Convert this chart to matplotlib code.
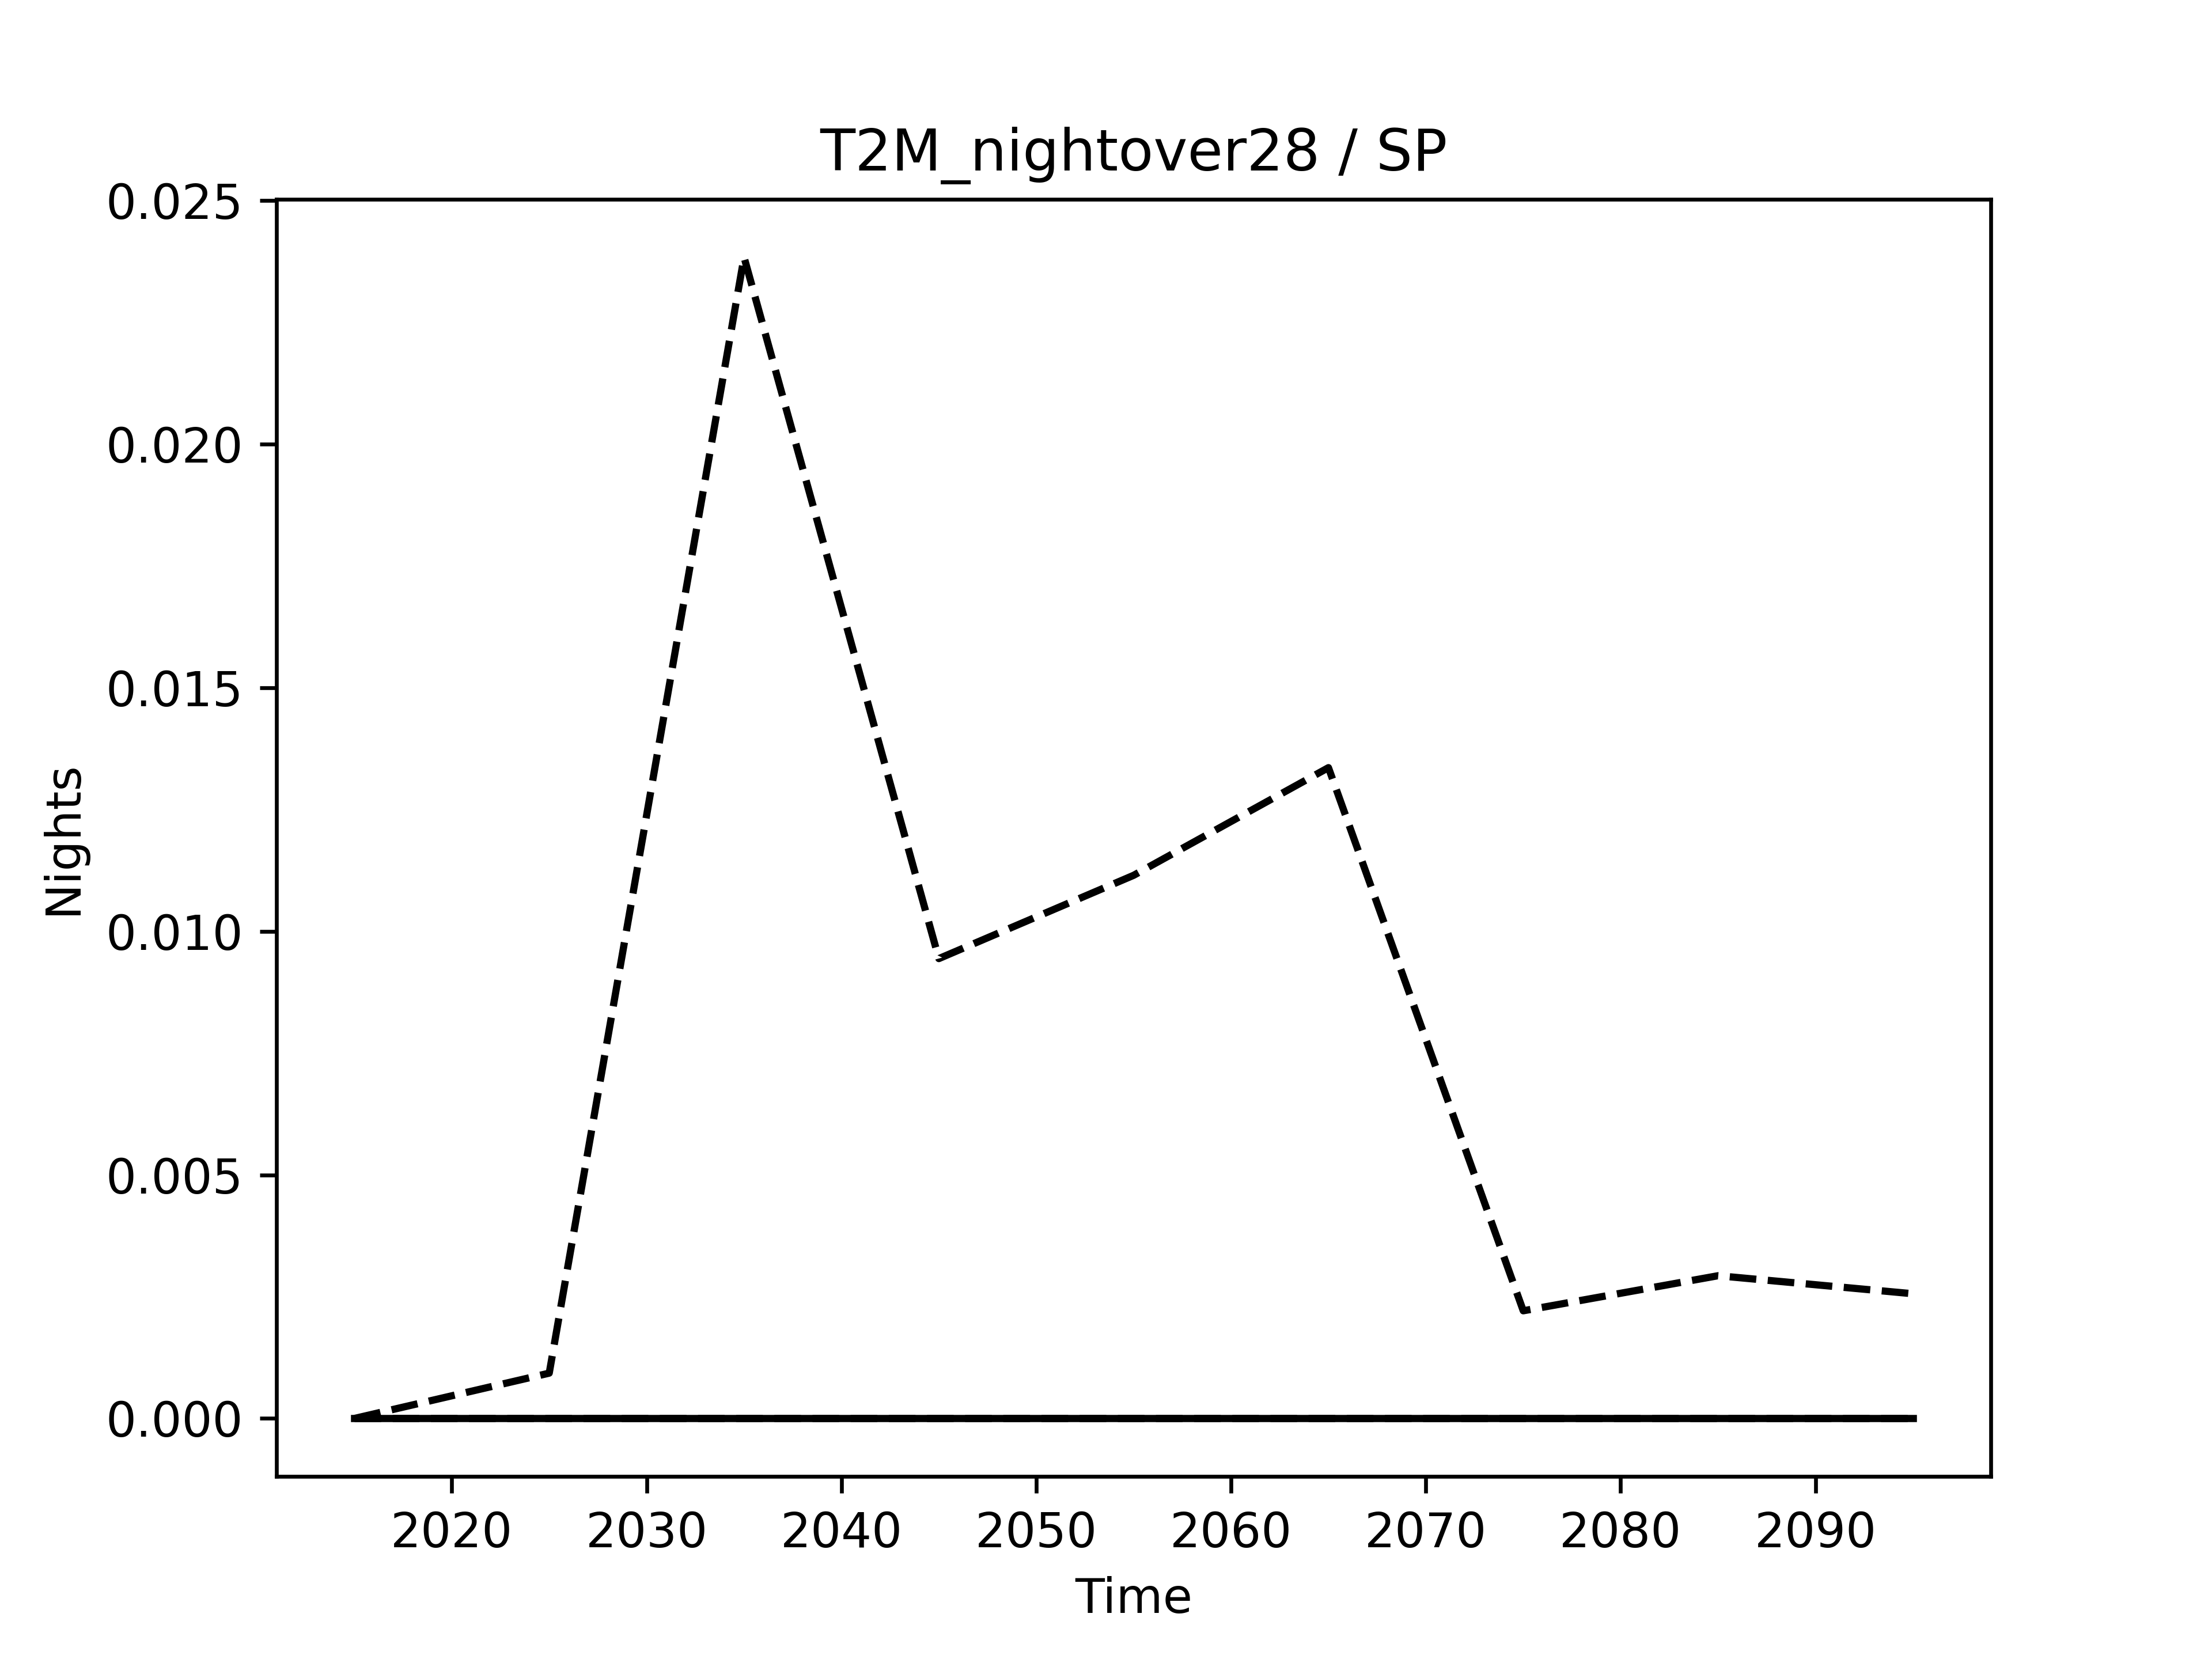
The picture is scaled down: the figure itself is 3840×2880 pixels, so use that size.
import matplotlib
matplotlib.use("Agg")
import matplotlib.pyplot as plt

# decade midpoints
years = [2015, 2025, 2035, 2045, 2055, 2065, 2075, 2085, 2095]
baseline = [0, 0, 0, 0, 0, 0, 0, 0, 0]
scenario_low = [0, 0, 0, 0, 0, 0, 0, 0, 0]
scenario = [0.0, 0.00093, 0.02384, 0.00944, 0.01115, 0.01336, 0.00221, 0.00293, 0.00256]

fig, ax = plt.subplots(figsize=(6.4, 4.8), dpi=600)
ax.plot(years, baseline, color="black", linestyle="-")
ax.plot(years, scenario_low, color="black", linestyle="--")
ax.plot(years, scenario, color="black", linestyle="--")
ax.set_title("T2M_nightover28 / SP")
ax.set_xlabel("Time")
ax.set_ylabel("Nights")

fig.savefig("out.png", dpi=600)
